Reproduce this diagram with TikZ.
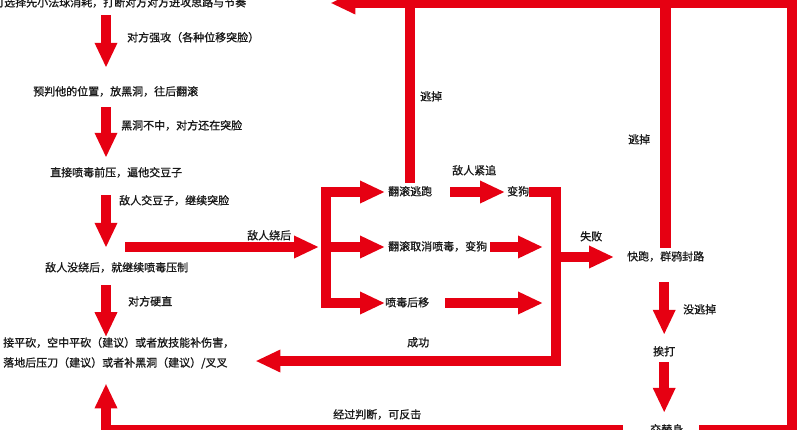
\documentclass[tikz,border=0pt]{standalone}
\usepackage{fontspec}
\newfontfamily\cjk[FakeBold=1]{Noto Sans CJK SC}
\usetikzlibrary{arrows.meta,calc}
\definecolor{flowred}{RGB}{230,0,18}
\definecolor{txt}{RGB}{25,25,25}
\begin{document}
\begin{tikzpicture}[x=1pt,y=-1pt,
  basetxt/.style={font=\cjk\fontsize{11pt}{13pt}\selectfont, text=txt, inner sep=0pt, anchor=west},
  lbl/.style={basetxt, text height=9pt, text depth=2pt},
  bigline/.style={draw=flowred, line width=10.5pt, line join=miter},
  bigarrow/.style={bigline, -{Triangle[length=25pt,width=21pt]}}]
\useasboundingbox (0,0) rectangle (800,429);
\clip (0,0) rectangle (800,429);
% texts
\node[lbl] (n0) at (-7,3) {可选择先小法球消耗，打断对方对方进攻思路与节奏};
\node[lbl] (l1) at (127,38) {对方强攻（各种位移突脸）};
\node[lbl] (n1) at (33,92) {预判他的位置，放黑洞，往后翻滚};
\node[lbl] (l2) at (121,126) {黑洞不中，对方还在突脸};
\node[lbl] (n2) at (50,173) {直接喷毒前压，逼他交豆子};
\node[lbl] (l3) at (119,201) {敌人交豆子，继续突脸};
\node[lbl] (n3) at (45,268) {敌人没绕后，就继续喷毒压制};
\node[lbl] (l4) at (128,302) {对方硬直};
\node[basetxt, align=left, font=\cjk\fontsize{11pt}{20pt}\selectfont] (n4) at (3,353)
  {接平砍，空中平砍（建议）或者放技能补伤害，\\落地后压刀（建议）或者补黑洞（建议）/叉叉};
\node[lbl] (l5) at (247,236) {敌人绕后};
\node[lbl] (b1) at (388,192) {翻滚逃跑};
\node[lbl] (b2) at (388,247) {翻滚取消喷毒，变狗};
\node[lbl] (b3) at (385,303) {喷毒后移};
\node[lbl] (l6) at (452,171) {敌人紧追};
\node[lbl] (c1) at (507,192) {变狗};
\node[lbl] (l7) at (407,343) {成功};
\node[lbl] (l8) at (580,237) {失败};
\node[lbl] (d1) at (627,257) {快跑，群鸦封路};
\node[lbl] (l9) at (420,97) {逃掉};
\node[lbl] (l10) at (628,140) {逃掉};
\node[lbl] (l11) at (683,310) {没逃掉};
\node[lbl] (d2) at (653,352) {挨打};
\node[lbl] (d3) at (650,430) {交替身};
\node[lbl] (l12) at (333,415) {经过判断，可反击};
% helper coordinates
\coordinate (colx) at (106,0);
\coordinate (tr) at (792,3);
\coordinate (jb) at (326,247);
\coordinate (g0) at (125,247);
\coordinate (rc) at (556,361);
% left column
\draw[bigarrow] ($(n0.south -| colx)+(0,6.5)$) -- ($(n1.north -| colx)+(0,-18.5)$);
\draw[bigarrow] ($(n1.south -| colx)+(0,9.5)$) -- ($(n2.north -| colx)+(0,-9.5)$);
\draw[bigarrow] ($(n2.south -| colx)+(0,16.5)$) -- ($(n3.north -| colx)+(0,-14.5)$);
\draw[bigarrow] ($(n3.south -| colx)+(0,11.5)$) -- (n4.north -| colx);
% branch
\draw[bigarrow] (g0) -- ($(jb)+(-7,0)$);
\draw[bigarrow] (jb) |- ($(b1.west)+(-3,0)$);
\draw[bigarrow] (jb) -- ($(b2.west)+(-3,0)$);
\draw[bigarrow] (jb) |- (b3.west);
% second column
\draw[bigarrow] ($(b1.east)+(18,0)$) -- ($(c1.west)+(-2,0)$);
\draw[bigarrow] ($(b2.east)+(3,0)$) -- ($(rc |- b2.east)+(-13,0)$);
\draw[bigarrow] ($(b3.east)+(16,0)$) -- ($(rc |- b3.east)+(-13,0)$);
\draw[bigarrow] (c1.east) -| (rc) -- ($(n4.east |- rc)+(21,0)$);
\draw[bigarrow] (rc |- d1.west) -- ($(d1.west)+(-13,0)$);
% right column
\draw[bigarrow] ($(d2.north |- d1.south)+(0,19.5)$) -- ($(d2.north)+(0,-11.5)$);
\draw[bigarrow] ($(d2.south)+(0,4.5)$) -- ($(d3.north -| d2.south)+(0,-11.5)$);
% returns
\draw[bigarrow] ($(d3.west)+(-27,0)$) -| ($(n4.south -| colx)+(0,14.5)$);
\draw[bigarrow] ($(d3.east)+(16,0)$) -| (tr) -- ($(n0.east)+(84,0)$);
\draw[bigline] ($(b1.north)+(0,-3.5)$) -- (b1.north |- tr);
\draw[bigline] ($(d1.north)+(0,-3.5)$) -- (d1.north |- tr);
\end{tikzpicture}
\end{document}
